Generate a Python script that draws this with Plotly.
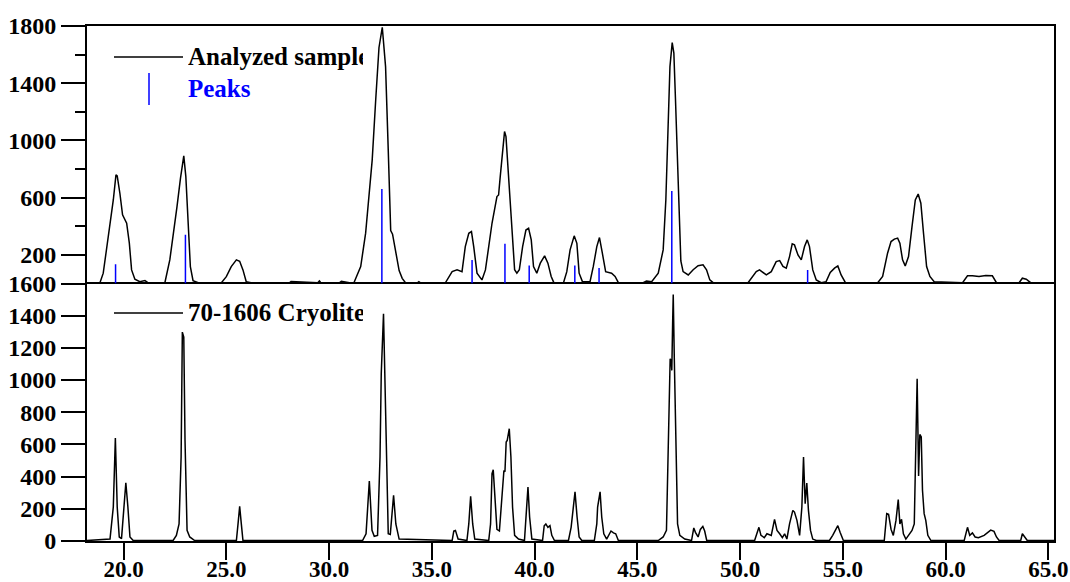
import plotly.graph_objects as go

# ---------------- data ----------------
# Analyzed sample (top panel): 2-theta and intensity
sample_x = [18.22, 18.85, 19.01, 19.17, 19.34, 19.50, 19.63, 19.69, 19.82, 19.95, 20.15, 20.28,
            20.39, 20.55, 20.79, 21.04, 21.20, 22.01, 22.25, 22.44, 22.60, 22.77, 22.93, 23.03,
            23.14, 23.25, 23.38, 23.63, 24.76, 25.00, 25.24, 25.49, 25.65, 25.81, 25.97, 26.20,
            28.07, 28.15, 29.45, 29.53, 29.60, 30.50, 30.60, 30.99, 31.21, 31.54, 31.78, 31.94,
            32.10, 32.27, 32.43, 32.59, 32.75, 32.88, 33.00, 33.09, 33.25, 33.41, 33.56, 33.72,
            34.30, 34.37, 34.45, 35.66, 35.99, 36.23, 36.47, 36.63, 36.80, 36.93, 37.04, 37.20,
            37.44, 37.61, 37.77, 37.93, 38.17, 38.25, 38.33, 38.45, 38.54, 38.61, 38.77, 38.90,
            39.03, 39.14, 39.26, 39.42, 39.58, 39.71, 39.84, 39.95, 40.11, 40.28, 40.49, 40.65,
            40.81, 40.94, 41.41, 41.57, 41.73, 41.93, 42.06, 42.17, 42.33, 42.70, 42.86, 43.03,
            43.16, 43.30, 43.46, 43.75, 43.92, 44.08, 45.29, 45.45, 45.70, 46.02, 46.26, 46.39,
            46.50, 46.59, 46.70, 46.78, 46.86, 46.96, 47.00, 47.12, 47.23, 47.48, 47.72, 47.96,
            48.20, 48.37, 48.53, 48.69, 50.39, 50.63, 50.79, 50.95, 51.12, 51.28, 51.52, 51.76,
            51.93, 52.09, 52.25, 52.41, 52.54, 52.65, 52.82, 52.98, 53.14, 53.27, 53.38, 53.54,
            53.71, 53.95, 54.19, 54.39, 54.60, 54.76, 54.92, 55.13, 56.70, 56.94, 57.18, 57.35,
            57.51, 57.67, 57.78, 57.91, 58.04, 58.20, 58.37, 58.53, 58.67, 58.80, 58.93, 59.08,
            59.24, 59.45, 60.83, 61.07, 61.31, 61.63, 61.96, 62.28, 62.48, 63.58, 63.74, 63.93,
            64.14, 65.28]
sample_y = [5, 5, 72, 235, 398, 584, 759, 752, 631, 480, 421, 282,
            95, 30, 12, 20, 5, 5, 165, 352, 538, 736, 892, 747,
            398, 118, 20, 6, 6, 48, 118, 165, 155, 95, 12, 5,
            5, 14, 5, 18, 5, 5, 16, 5, 5, 118, 352, 584,
            864, 1283, 1650, 1791, 1516, 934, 370, 345, 212, 90, 36, 5,
            5, 13, 5, 5, 83, 95, 83, 258, 351, 363, 258, 72,
            25, 95, 258, 421, 608, 619, 747, 957, 1062, 1027, 678, 351,
            96, 72, 96, 258, 374, 386, 305, 119, 72, 142, 193, 142,
            49, 6, 6, 83, 235, 333, 281, 72, 13, 13, 119, 258,
            321, 212, 83, 72, 49, 6, 6, 18, 13, 72, 235, 584,
            1051, 1516, 1684, 1610, 1283, 800, 584, 158, 83, 60, 96, 124,
            131, 96, 25, 6, 6, 49, 83, 95, 77, 60, 83, 153,
            160, 119, 107, 188, 277, 270, 200, 165, 258, 305, 258, 95,
            25, 6, 13, 77, 107, 123, 60, 6, 6, 49, 212, 293,
            310, 317, 282, 165, 123, 188, 398, 584, 626, 561, 351, 119,
            49, 13, 6, 54, 54, 49, 56, 54, 6, 6, 37, 30,
            6, 6]

# Identified peaks (blue sticks, top panel)
peak_x = [19.61, 23.01, 32.57, 36.96, 38.56, 39.74, 41.96, 43.14, 46.68, 53.29]
peak_h = [135, 340, 661, 165, 277, 125, 125, 109, 647, 95]

# 70-1606 Cryolite reference pattern (bottom panel)
ref_x = [18.22, 19.34, 19.50, 19.60, 19.69, 19.79, 19.90, 20.02, 20.11, 20.21, 20.31, 20.47,
         22.41, 22.57, 22.70, 22.80, 22.86, 22.93, 22.99, 23.09, 23.22, 23.46,
         25.49, 25.57, 25.65, 25.73, 25.81,
         31.63, 31.80, 31.96, 32.09, 32.20, 32.36, 32.48, 32.54, 32.65, 32.77, 32.88, 32.98,
         33.14, 33.25, 33.41, 35.99, 36.07, 36.15, 36.28, 36.71, 36.80, 36.89, 36.99, 37.09,
         37.77, 37.86, 37.93, 37.99, 38.09, 38.17, 38.29, 38.38, 38.45, 38.51, 38.56, 38.62,
         38.67, 38.77, 38.85, 38.93, 39.03, 39.22, 39.51, 39.59, 39.68, 39.76, 39.87, 40.39,
         40.47, 40.55, 40.65, 40.75, 40.84, 40.97, 41.65, 41.78, 41.88, 41.97, 42.07, 42.17,
         42.30, 42.91, 43.03, 43.07, 43.19, 43.27, 43.37, 43.51, 43.72, 43.84, 43.95, 44.08,
         46.02, 46.26, 46.42, 46.54, 46.60, 46.65, 46.68, 46.72, 46.75, 46.80, 46.86, 46.96,
         47.07, 47.31, 47.64, 47.75, 47.83, 47.96, 48.07, 48.19, 48.28, 48.38, 50.71, 50.83,
         50.92, 51.02, 51.18, 51.31, 51.52, 51.68, 51.80, 51.93, 52.06, 52.17, 52.28, 52.41,
         52.49, 52.57, 52.65, 52.77, 52.90, 53.01, 53.09, 53.17, 53.25, 53.33, 53.43, 53.54,
         53.71, 54.35, 54.51, 54.64, 54.76, 54.87, 55.03, 57.02, 57.14, 57.23, 57.35, 57.46,
         57.59, 57.70, 57.78, 57.86, 57.95, 58.07, 58.24, 58.37, 58.48, 58.56, 58.62, 58.69,
         58.75, 58.82, 58.88, 58.96, 59.04, 59.14, 59.29, 60.91, 61.07, 61.18, 61.31, 61.44,
         61.60, 61.88, 62.04, 62.20, 62.36, 62.48, 62.61, 63.66, 63.74, 63.85, 63.98, 65.28]
ref_y = [3, 12, 211, 640, 211, 25, 15, 232, 362, 211, 25, 3,
         3, 35, 106, 522, 1298, 1267, 625, 66, 25, 3,
         3, 106, 215, 106, 3,
         3, 45, 373, 66, 29, 35, 522, 1039, 1412, 729, 45, 41,
         284, 106, 12, 3, 62, 66, 12, 3, 106, 278, 106, 12,
         3, 106, 418, 443, 232, 72, 62, 232, 333, 438, 430, 615,
         625, 698, 522, 211, 35, 12, 3, 149, 336, 149, 12, 3,
         95, 106, 85, 95, 35, 3, 3, 85, 190, 305, 149, 25,
         3, 3, 106, 211, 305, 149, 45, 12, 62, 50, 45, 3,
         3, 25, 66, 728, 1132, 1122, 1060, 1350, 1532, 1143, 697, 106,
         35, 12, 3, 81, 54, 25, 72, 91, 62, 3, 3, 45,
         85, 35, 21, 45, 35, 134, 66, 45, 21, 45, 12, 106,
         149, 190, 180, 128, 35, 211, 522, 232, 360, 190, 66, 12,
         3, 3, 35, 66, 95, 54, 3, 3, 170, 166, 72, 35,
         128, 257, 106, 135, 45, 12, 45, 66, 106, 522, 1008, 404,
         662, 646, 315, 170, 128, 35, 3, 3, 85, 35, 50, 25,
         21, 35, 54, 68, 60, 25, 3, 3, 45, 25, 3, 3]

x_ticks = [20, 25, 30, 35, 40, 45, 50, 55, 60, 65]
top_y_ticks = [200, 600, 1000, 1400, 1800]
bottom_y_ticks = [0, 200, 400, 600, 800, 1000, 1200, 1400, 1600]

legend_sample = "Analyzed sample"
legend_peaks = "Peaks"
legend_ref = "70-1606 Cryolite"

# ---------------- figure ----------------
W, H = 1070, 582
ML, MR, MT, MB = 87, 16, 26, 41
PW, PH = W - ML - MR, H - MT - MB


def px2x(px):
    return (px - ML) / PW


def px2y(py):
    return (H - MB - py) / PH


FONT = "Liberation Serif"
BLUE = "#0000FF"

fig = go.Figure()

fig.add_trace(go.Scatter(x=sample_x, y=sample_y, mode="lines",
                         line=dict(color="black", width=1.5),
                         xaxis="x2", yaxis="y2", showlegend=False))

stick_x, stick_y = [], []
for px_, ph_ in zip(peak_x, peak_h):
    stick_x += [px_, px_, None]
    stick_y += [0, ph_, None]
fig.add_trace(go.Scatter(x=stick_x, y=stick_y, mode="lines",
                         line=dict(color=BLUE, width=1.5),
                         xaxis="x2", yaxis="y2", showlegend=False))

fig.add_trace(go.Scatter(x=ref_x, y=ref_y, mode="lines",
                         line=dict(color="black", width=1.5),
                         xaxis="x", yaxis="y", showlegend=False))

tickfont = dict(family=FONT, size=24, color="black", weight="bold")
xtickfont = dict(family=FONT, size=23, color="black", weight="bold")
XR = [18.22, 65.28]

fig.update_layout(
    width=W, height=H,
    margin=dict(l=ML, r=MR, t=MT, b=MB, pad=0, autoexpand=False),
    paper_bgcolor="white", plot_bgcolor="white",
    font=dict(family=FONT, color="black"),
    xaxis=dict(domain=[0, 1], anchor="y", range=XR, tickvals=x_ticks, tickformat=".1f",
               ticks="outside", ticklen=17, tickwidth=2, tickcolor="black",
               ticklabelstandoff=-11,
               showline=True, linecolor="black", linewidth=2, mirror=True, automargin=False,
               showgrid=False, zeroline=False, tickfont=xtickfont),
    yaxis=dict(domain=[0, 0.5], anchor="x", range=[0, 1600], tickvals=bottom_y_ticks,
               ticks="outside", ticklen=24, tickwidth=2, tickcolor="black",
               showline=True, linecolor="black", linewidth=2, mirror=True, automargin=False,
               showgrid=False, zeroline=False, tickfont=tickfont),
    xaxis2=dict(domain=[0, 1], anchor="y2", range=XR, matches="x", showticklabels=False,
                side="top", ticks="", showline=True, linecolor="black", linewidth=2,
                mirror=False, automargin=False, showgrid=False, zeroline=False),
    yaxis2=dict(domain=[0.5, 1], anchor="x2", range=[0, 1800], tickvals=top_y_ticks,
                ticks="outside", ticklen=24, tickwidth=2, tickcolor="black",
                showline=True, linecolor="black", linewidth=2, mirror=True, automargin=False,
                showgrid=False, zeroline=False, tickfont=tickfont,
                minor=dict(tickvals=[400, 800, 1200, 1600], ticks="outside", ticklen=10,
                           tickwidth=2, tickcolor="black", showgrid=False)),
)

# legend-like decorations
fig.add_shape(type="line", xref="paper", yref="paper",
              x0=px2x(114), x1=px2x(183), y0=px2y(57), y1=px2y(57),
              line=dict(color="black", width=1.5))
fig.add_shape(type="line", xref="paper", yref="paper",
              x0=px2x(149), x1=px2x(149), y0=px2y(73), y1=px2y(105),
              line=dict(color=BLUE, width=1.5))
fig.add_shape(type="line", xref="paper", yref="paper",
              x0=px2x(114), x1=px2x(183), y0=px2y(313), y1=px2y(313),
              line=dict(color="black", width=1.5))

legfont = dict(family=FONT, size=25, color="black", weight="bold")
for txt, ypx, col in [(legend_sample, 57, "black"), (legend_peaks, 88, BLUE),
                      (legend_ref, 313, "black")]:
    fig.add_annotation(text=txt, xref="paper", yref="paper", x=px2x(187), y=px2y(ypx),
                       xanchor="left", yanchor="middle", align="left", width=175,
                       showarrow=False, borderpad=0,
                       font=dict(legfont, color=col))

fig.write_html("out.html")
